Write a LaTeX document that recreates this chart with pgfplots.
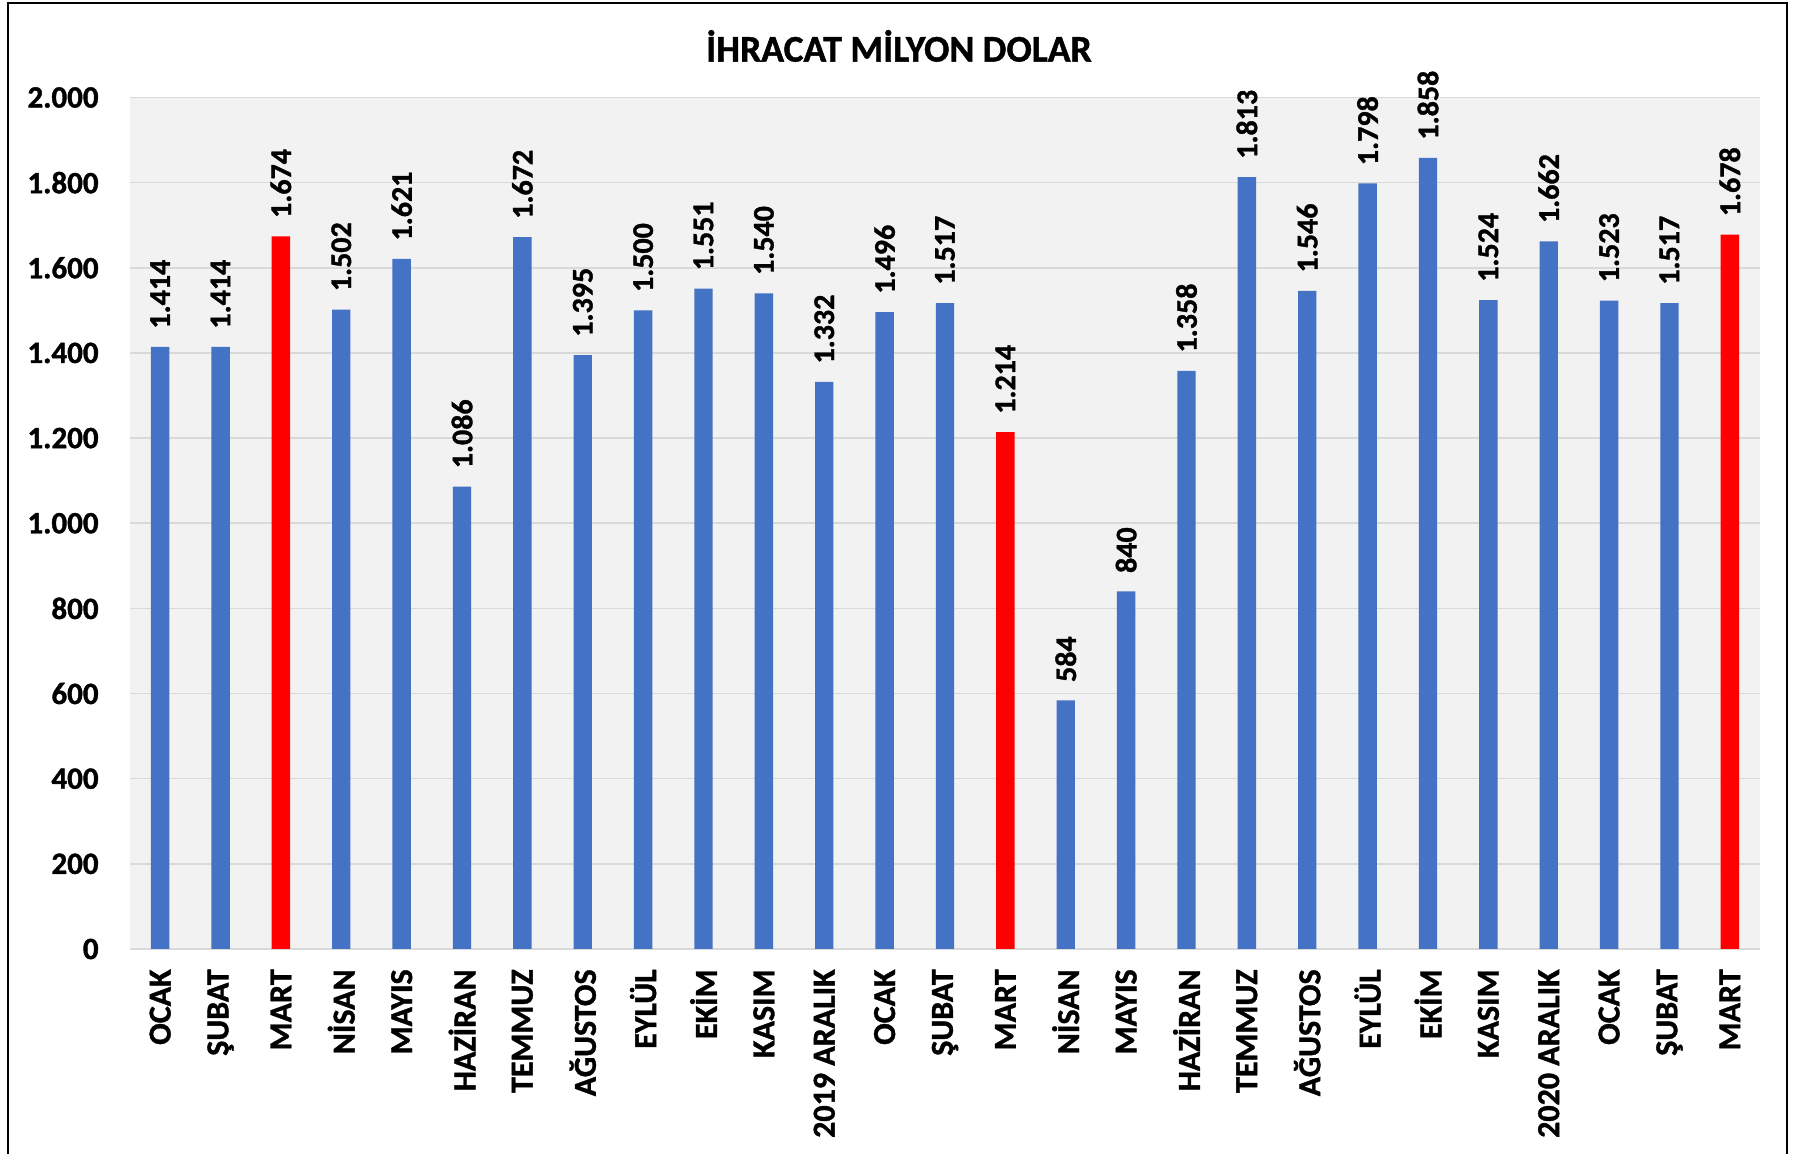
\documentclass[border=0pt]{standalone}
\usepackage{pgfplots}
\pgfplotsset{compat=1.18}
\usepackage{fontspec}
\setmainfont{Carlito}[BoldFeatures={FakeBold=1.2}]
\definecolor{barblue}{HTML}{4472C4}
\definecolor{barred}{HTML}{FF0000}
\definecolor{plotbg}{HTML}{F2F2F2}
\definecolor{gridc}{HTML}{D9D9D9}
\begin{document}
\begin{tikzpicture}
\path[use as bounding box] (0,0) rectangle (899pt,577pt);
\draw[line width=1pt,black] (4.2pt,0) -- (4.2pt,575.7pt) -- (893.6pt,575.7pt) -- (893.6pt,0);
\node[font=\fontsize{18.8}{20}\selectfont\bfseries] at (449.5pt,554pt) {İHRACAT MİLYON DOLAR};
\begin{axis}[
  at={(65pt,102.5pt)}, anchor=south west,
  scale only axis, width=815pt, height=425.75pt,
  xmin=-0.5, xmax=26.5, ymin=0, ymax=2000,
  ytick={0,200,...,2000},
  xtick={0,...,26},
  xticklabels={OCAK,ŞUBAT,MART,NİSAN,MAYIS,HAZİRAN,TEMMUZ,AĞUSTOS,EYLÜL,EKİM,KASIM,2019 ARALIK,OCAK,ŞUBAT,MART,NİSAN,MAYIS,HAZİRAN,TEMMUZ,AĞUSTOS,EYLÜL,EKİM,KASIM,2020 ARALIK,OCAK,ŞUBAT,MART},
  major tick length=0pt,
  axis line style={draw=none},
  axis background/.style={fill=plotbg},
  ymajorgrids, grid style={gridc, line width=0.8pt},
  /pgf/number format/assume math mode=true,
  /pgf/number format/1000 sep={.},
  yticklabel style={font=\fontsize{15.5}{17}\selectfont\bfseries, anchor=east, inner sep=0pt, xshift=-15.5pt},
  xticklabel style={font=\fontsize{16}{18}\selectfont\bfseries, rotate=90, anchor=east, inner ysep=0pt, inner xsep=10pt},
  ybar, bar width=9.2pt, bar shift=0pt,
  nodes near coords,
  every node near coord/.append style={font=\fontsize{15}{17}\selectfont\bfseries, rotate=90, anchor=west, inner ysep=0pt, inner xsep=9pt, black},
  clip=false,
]
\addplot[fill=barblue, draw=none] coordinates {
(0,1414) (1,1414) (3,1502) (4,1621) (5,1086) (6,1672) (7,1395) (8,1500) (9,1551) (10,1540) (11,1332) (12,1496) (13,1517)
(15,584) (16,840) (17,1358) (18,1813) (19,1546) (20,1798) (21,1858) (22,1524) (23,1662) (24,1523) (25,1517)};
\addplot[fill=barred, draw=none] coordinates {(2,1674) (14,1214) (26,1678)};
\end{axis}
\end{tikzpicture}
\end{document}
